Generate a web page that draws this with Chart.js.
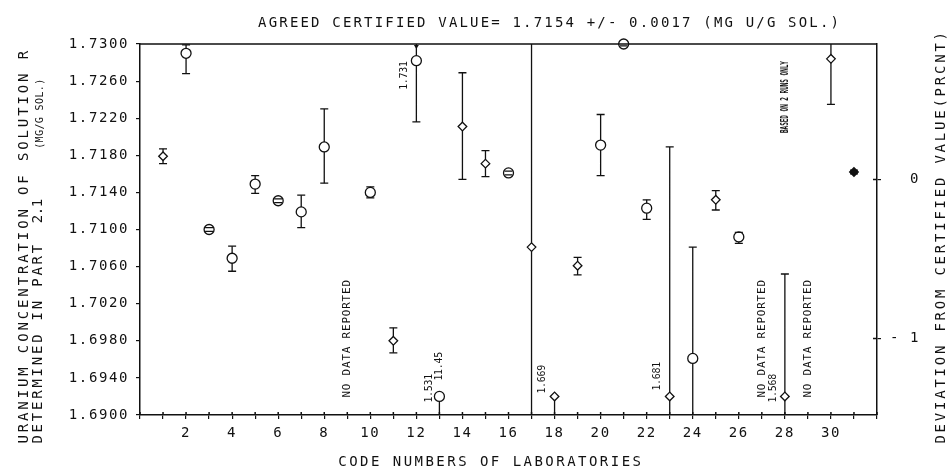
<!DOCTYPE html>
<html>
<head>
<meta charset="utf-8">
<title>Uranium concentration by laboratory</title>
<script src="https://cdn.jsdelivr.net/npm/chart.js@4/dist/chart.umd.min.js"></script>
<style>
html, body { margin: 0; padding: 0; background: #fff; }
canvas { display: block; }
</style>
</head>
<body>
<canvas id="graphic" width="950" height="470"></canvas>
<script>
// lab code numbers that reported (9, 27 and 29 did not)
const labs    = [1, 2, 3, 4, 5, 6, 7, 8, 10, 11, 12, 13, 14, 15, 16, 17, 18, 19, 20, 21, 22, 23, 24, 25, 26, 28, 30, 31];
const means   = [1.7179, 1.7290, 1.7100, 1.7069, 1.7149, 1.7131, 1.7119, 1.7189, 1.7140, 1.6980, 1.7282, 1.6920, 1.7211, 1.7171,
                 1.7161, 1.7081, 1.6920, 1.7061, 1.7191, 1.7300, 1.7123, 1.6920, 1.6961, 1.7132, 1.7092, 1.6920, 1.7284, 1.7162];
const lows    = [1.7171, 1.7268, 1.7098, 1.7055, 1.7139, 1.7129, 1.7102, 1.7150, 1.7134, 1.6967, 1.7216, 1.6880, 1.7154, 1.7157,
                 1.7159, 1.6800, 1.6880, 1.7051, 1.7158, 1.7298, 1.7111, 1.6850, 1.6850, 1.7121, 1.7085, 1.6850, 1.7235, 1.7160];
const highs   = [1.7187, 1.7299, 1.7102, 1.7082, 1.7158, 1.7133, 1.7137, 1.7230, 1.7146, 1.6994, 1.7310, 1.6920, 1.7269, 1.7185,
                 1.7163, 1.7400, 1.6920, 1.7070, 1.7224, 1.7302, 1.7132, 1.7189, 1.7081, 1.7142, 1.7097, 1.7052, 1.7310, 1.7164];
const markers = ['D', 'O', 'O', 'O', 'O', 'O', 'O', 'O', 'O', 'D', 'O', 'O', 'D', 'D',
                 'O', 'D', 'D', 'D', 'O', 'O', 'O', 'D', 'O', 'D', 'O', 'D', 'D', 'D'];
const filledLabs = [31];

const noDataLabs = [9, 27, 29];
const noteLabs   = [12, 13, 13, 18, 23, 28];
const noteTexts  = ['1.731', '1.531', '11.45', '1.669', '1.681', '1.568'];
const remarkLab  = 28;
const remarkText = 'BASED ON 2 RUNS ONLY';

const certifiedValue = 1.7154;
const yTickStep = 0.004;
const deviationTicks  = [-1, 0];
const deviationLabels = ['- 1', '  0'];

const titleText  = 'AGREED CERTIFIED VALUE= 1.7154 +/- 0.0017 (MG U/G SOL.)';
const xTitle     = 'CODE NUMBERS OF LABORATORIES';
const yTitle1    = 'URANIUM CONCENTRATION OF SOLUTION R';
const yTitle2a   = 'DETERMINED IN PART';
const yTitle2b   = '2.1';
const yTitle2c   = '(MG/G SOL.)';
const y2Title    = 'DEVIATION FROM CERTIFIED VALUE(PRCNT)';

const FONT = "'DejaVu Sans Mono', monospace";
const INK = '#111';

const yMin = 1.69, yMax = 1.73;
const devOf = v => (v - certifiedValue) / certifiedValue * 100;

// plotter style text: every char on a fixed pitch, optional rotation (reads upward)
function monoText(ctx, str, x, y, o) {
  ctx.save();
  ctx.letterSpacing = '0px';
  ctx.fillStyle = INK;
  ctx.font = (o.bold ? 'bold ' : '') + o.size + 'px ' + FONT;
  ctx.textAlign = 'center';
  ctx.textBaseline = 'middle';
  ctx.translate(x, y);
  if (o.up) ctx.rotate(-Math.PI / 2);
  for (let i = 0; i < str.length; i++) {
    if (str[i] === ' ') continue;
    ctx.save();
    ctx.translate(i * o.pitch + o.pitch / 2, 0);
    if (o.sx) ctx.scale(o.sx, 1);
    ctx.fillText(str[i], 0, 0);
    ctx.restore();
  }
  ctx.restore();
}

const pts = m => labs.map((lab, i) => ({ x: lab, y: means[i], m: markers[i] })).filter(p => p.m === m);

const plotter = {
  id: 'plotter',
  beforeLayout(chart) { chart.ctx.letterSpacing = '1.6px'; },
  beforeDraw(chart) { chart.ctx.letterSpacing = '1.6px'; },
  beforeDatasetsDraw(chart) {
    // error bar stems, behind the white markers
    const { ctx, chartArea: a, scales: { x, y } } = chart;
    ctx.save();
    ctx.strokeStyle = INK;
    ctx.lineWidth = 1.3;
    ctx.beginPath();
    labs.forEach((lab, i) => {
      const px = x.getPixelForValue(lab);
      const top = Math.max(y.getPixelForValue(highs[i]), a.top);
      const bot = Math.min(y.getPixelForValue(lows[i]), a.bottom);
      ctx.moveTo(px, top);
      ctx.lineTo(px, bot);
    });
    ctx.stroke();
    ctx.restore();
  },
  afterDatasetsDraw(chart) {
    // error bar caps
    const { ctx, chartArea: a, scales: { x, y } } = chart;
    ctx.save();
    ctx.strokeStyle = INK;
    ctx.lineWidth = 1.3;
    ctx.beginPath();
    labs.forEach((lab, i) => {
      const px = x.getPixelForValue(lab);
      const pm = y.getPixelForValue(means[i]);
      [highs[i], lows[i]].forEach(v => {
        const py = y.getPixelForValue(v);
        if (py >= a.top && py <= a.bottom && Math.abs(py - pm) > 0.5) {
          ctx.moveTo(px - 4, py);
          ctx.lineTo(px + 4, py);
        }
      });
    });
    ctx.stroke();
    ctx.restore();
  },
  afterDraw(chart) {
    const { ctx, chartArea: a, scales: { x, y, y2 } } = chart;
    ctx.save();
    ctx.strokeStyle = INK;
    ctx.lineWidth = 1.5;
    ctx.beginPath();
    ctx.moveTo(a.left, a.top);
    ctx.lineTo(a.right, a.top);
    // ticks cross the axes
    x.ticks.forEach(t => {
      const px = x.getPixelForValue(t.value);
      ctx.moveTo(px, a.bottom);
      ctx.lineTo(px, a.bottom - 3);
    });
    y2.ticks.forEach(t => {
      const py = y2.getPixelForValue(t.value);
      ctx.moveTo(a.right, py);
      ctx.lineTo(a.right - 4, py);
    });
    ctx.stroke();
    // arrow where lab 12 runs off the top
    const p12 = x.getPixelForValue(12);
    ctx.fillStyle = INK;
    ctx.beginPath();
    ctx.moveTo(p12 - 2.5, a.top + 1);
    ctx.lineTo(p12 + 2.5, a.top + 1);
    ctx.lineTo(p12, a.top + 5);
    ctx.fill();
    ctx.restore();

    // titles
    monoText(ctx, titleText, 257, 23, { size: 14, pitch: 10.6 });
    monoText(ctx, xTitle, 337, 462, { size: 14, pitch: 10.9 });
    monoText(ctx, yTitle1, 24, 445, { size: 14, pitch: 11.3, up: true });
    monoText(ctx, yTitle2a, 38, 445, { size: 14, pitch: 11.2, up: true });
    monoText(ctx, yTitle2b, 38, 223, { size: 14, pitch: 8, up: true });
    monoText(ctx, yTitle2c, 40, 149, { size: 10, pitch: 6.4, up: true });
    monoText(ctx, y2Title, 941, 445, { size: 14, pitch: 11.2, up: true });

    // in-plot remarks
    const bottomY = y.getPixelForValue(yMin);
    noDataLabs.forEach(lab => {
      monoText(ctx, 'NO DATA REPORTED', x.getPixelForValue(lab), bottomY - 17, { size: 11, pitch: 7.4, up: true });
    });
    monoText(ctx, remarkText, x.getPixelForValue(remarkLab), y.getPixelForValue(1.7204), { size: 11, pitch: 3.6, sx: 0.55, bold: true, up: true });

    const noteDx = [-12, -10, 0, -12, -12, -11];
    const noteDy = [29, 6, -16, -3, -6, 6];
    noteLabs.forEach((lab, k) => {
      const i = labs.indexOf(lab);
      const px = x.getPixelForValue(lab) + noteDx[k];
      const py = y.getPixelForValue(means[i]) + noteDy[k];
      monoText(ctx, noteTexts[k], px, py, { size: 10, pitch: 5.7, up: true });
    });
  }
};

const tickFont = { family: FONT, size: 14 };

new Chart(document.getElementById('graphic'), {
  type: 'scatter',
  data: {
    datasets: [
      {
        label: 'circle',
        data: pts('O'),
        pointStyle: 'circle',
        pointRadius: 5,
        pointBorderWidth: 1.3,
        pointBorderColor: INK,
        pointBackgroundColor: '#fff',
        clip: false
      },
      {
        label: 'diamond',
        data: pts('D'),
        pointStyle: 'rectRot',
        pointRadius: 4.3,
        pointBorderWidth: 1.3,
        pointBorderColor: INK,
        pointBackgroundColor: ctx => (ctx.raw && filledLabs.includes(ctx.raw.x)) ? INK : '#fff',
        clip: false
      }
    ]
  },
  options: {
    responsive: false,
    animation: false,
    devicePixelRatio: 1,
    layout: { padding: { top: 44, left: 0, right: 0, bottom: 0 } },
    plugins: { legend: { display: false }, tooltip: { enabled: false } },
    scales: {
      x: {
        type: 'linear',
        min: 0,
        max: 32,
        afterFit: s => { s.height = 55; },
        ticks: {
          stepSize: 1,
          autoSkip: false,
          maxRotation: 0,
          padding: 6,
          color: INK,
          font: tickFont,
          callback: v => (v % 2 === 0 && v > 0 && v < 32) ? String(v) : ''
        },
        grid: { drawOnChartArea: false, tickLength: 4, color: INK, lineWidth: 1.2 },
        border: { color: INK, width: 1.5 }
      },
      y: {
        position: 'left',
        min: yMin,
        max: yMax,
        afterFit: s => { s.width = 140; },
        ticks: {
          stepSize: yTickStep,
          padding: 7,
          color: INK,
          font: tickFont,
          callback: v => Number(v).toFixed(4)
        },
        grid: { drawOnChartArea: false, tickLength: 4, color: INK, lineWidth: 1.2 },
        border: { color: INK, width: 1.5 }
      },
      y2: {
        position: 'right',
        min: devOf(yMin),
        max: devOf(yMax),
        afterFit: s => { s.width = 73; },
        afterBuildTicks: s => { s.ticks = deviationTicks.map(v => ({ value: v })); },
        ticks: {
          padding: 9,
          color: INK,
          font: tickFont,
          callback: v => deviationLabels[deviationTicks.indexOf(Math.round(v))]
        },
        grid: { drawOnChartArea: false, tickLength: 4, color: INK, lineWidth: 1.2 },
        border: { color: INK, width: 1.5 }
      }
    }
  },
  plugins: [plotter]
});
</script>
</body>
</html>
